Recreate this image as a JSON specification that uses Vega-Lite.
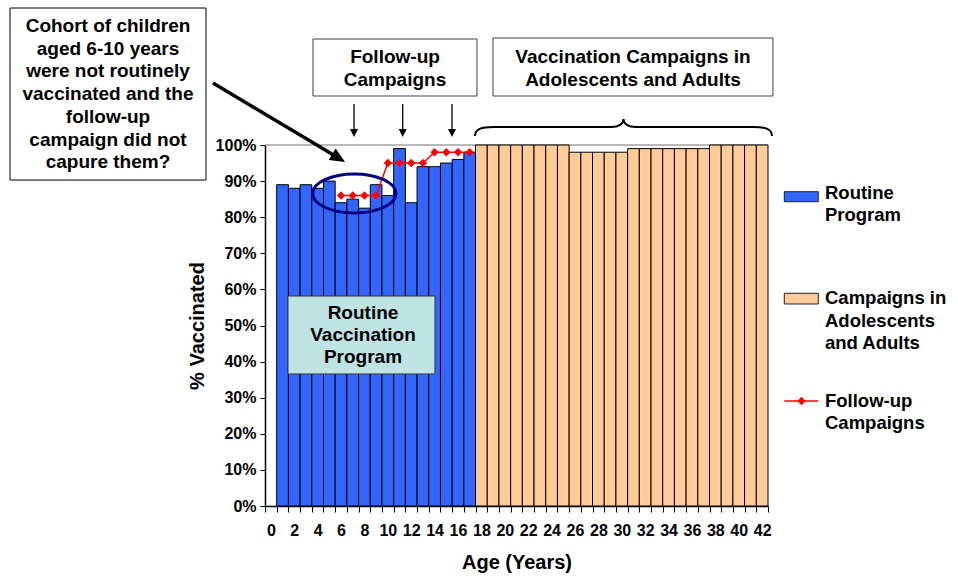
{
  "$schema": "https://vega.github.io/schema/vega-lite/v6.json",
  "width": 503,
  "height": 361,
  "autosize": {"type": "none"},
  "padding": {"left": 265, "top": 145, "right": 190, "bottom": 70},
  "background": "white",
  "config": {"font": "Liberation Sans", "view": {"stroke": null}},
  "resolve": {"scale": {"x": "independent", "y": "independent"}},
  "layer": [
    {
      "layer": [
        {
          "data": {"values": [{}]},
          "mark": {"type": "rule", "color": "#A0A0A0", "strokeWidth": 1.5},
          "encoding": {"y": {"datum": 1, "type": "quantitative", "scale": {"domain": [0, 1]},
            "axis": {
                "values": [0, 0.1, 0.2, 0.3, 0.4, 0.5, 0.6, 0.7, 0.8, 0.9, 1], "tickCount": 11, "format": ".0%", "labelOverlap": false,
                "title": "% Vaccinated", "titleFontSize": 20, "titleFontWeight": "bold", "titleColor": "black", "titlePadding": 8,
                "labelFontSize": 16, "labelFontWeight": "bold", "labelColor": "black", "labelPadding": 4,
                "tickSize": 5, "tickColor": "black", "domainColor": "black", "domainWidth": 1.5, "grid": false
            }}}
        },
        {
          "data": {"values": [
            {"age": 1, "pct": 0.89, "program": "Routine Program"},
            {"age": 2, "pct": 0.88, "program": "Routine Program"},
            {"age": 3, "pct": 0.89, "program": "Routine Program"},
            {"age": 4, "pct": 0.88, "program": "Routine Program"},
            {"age": 5, "pct": 0.90, "program": "Routine Program"},
            {"age": 6, "pct": 0.84, "program": "Routine Program"},
            {"age": 7, "pct": 0.85, "program": "Routine Program"},
            {"age": 8, "pct": 0.825, "program": "Routine Program"},
            {"age": 9, "pct": 0.89, "program": "Routine Program"},
            {"age": 10, "pct": 0.86, "program": "Routine Program"},
            {"age": 11, "pct": 0.99, "program": "Routine Program"},
            {"age": 12, "pct": 0.84, "program": "Routine Program"},
            {"age": 13, "pct": 0.94, "program": "Routine Program"},
            {"age": 14, "pct": 0.94, "program": "Routine Program"},
            {"age": 15, "pct": 0.95, "program": "Routine Program"},
            {"age": 16, "pct": 0.96, "program": "Routine Program"},
            {"age": 17, "pct": 0.98, "program": "Routine Program"},
            {"age": 18, "pct": 1.0, "program": "Campaigns in Adolescents and Adults"},
            {"age": 19, "pct": 1.0, "program": "Campaigns in Adolescents and Adults"},
            {"age": 20, "pct": 1.0, "program": "Campaigns in Adolescents and Adults"},
            {"age": 21, "pct": 1.0, "program": "Campaigns in Adolescents and Adults"},
            {"age": 22, "pct": 1.0, "program": "Campaigns in Adolescents and Adults"},
            {"age": 23, "pct": 1.0, "program": "Campaigns in Adolescents and Adults"},
            {"age": 24, "pct": 1.0, "program": "Campaigns in Adolescents and Adults"},
            {"age": 25, "pct": 1.0, "program": "Campaigns in Adolescents and Adults"},
            {"age": 26, "pct": 0.98, "program": "Campaigns in Adolescents and Adults"},
            {"age": 27, "pct": 0.98, "program": "Campaigns in Adolescents and Adults"},
            {"age": 28, "pct": 0.98, "program": "Campaigns in Adolescents and Adults"},
            {"age": 29, "pct": 0.98, "program": "Campaigns in Adolescents and Adults"},
            {"age": 30, "pct": 0.98, "program": "Campaigns in Adolescents and Adults"},
            {"age": 31, "pct": 0.99, "program": "Campaigns in Adolescents and Adults"},
            {"age": 32, "pct": 0.99, "program": "Campaigns in Adolescents and Adults"},
            {"age": 33, "pct": 0.99, "program": "Campaigns in Adolescents and Adults"},
            {"age": 34, "pct": 0.99, "program": "Campaigns in Adolescents and Adults"},
            {"age": 35, "pct": 0.99, "program": "Campaigns in Adolescents and Adults"},
            {"age": 36, "pct": 0.99, "program": "Campaigns in Adolescents and Adults"},
            {"age": 37, "pct": 0.99, "program": "Campaigns in Adolescents and Adults"},
            {"age": 38, "pct": 1.0, "program": "Campaigns in Adolescents and Adults"},
            {"age": 39, "pct": 1.0, "program": "Campaigns in Adolescents and Adults"},
            {"age": 40, "pct": 1.0, "program": "Campaigns in Adolescents and Adults"},
            {"age": 41, "pct": 1.0, "program": "Campaigns in Adolescents and Adults"},
            {"age": 42, "pct": 1.0, "program": "Campaigns in Adolescents and Adults"}
          ]},
          "mark": {"type": "bar", "stroke": "black", "strokeWidth": 1},
          "encoding": {
            "x": {
              "field": "age", "type": "ordinal",
              "scale": {"domain": [0,1,2,3,4,5,6,7,8,9,10,11,12,13,14,15,16,17,18,19,20,21,22,23,24,25,26,27,28,29,30,31,32,33,34,35,36,37,38,39,40,41,42], "paddingInner": 0, "paddingOuter": 0},
              "axis": {
                "title": "Age (Years)", "titleFontSize": 20, "titleFontWeight": "bold", "titleColor": "black", "titlePadding": 14,
                "labelFontSize": 16, "labelFontWeight": "bold", "labelColor": "black", "labelAngle": 0, "labelPadding": 10,
                "labelOverlap": false, "labelExpr": "datum.value % 2 == 0 ? datum.label : ''",
                "tickBand": "extent", "tickSize": 6, "tickColor": "black", "domainColor": "black", "domainWidth": 1.5, "grid": false
              }
            },
            "y": {
              "field": "pct", "type": "quantitative",
              "scale": {"domain": [0, 1]},
              "axis": {
                "values": [0, 0.1, 0.2, 0.3, 0.4, 0.5, 0.6, 0.7, 0.8, 0.9, 1], "tickCount": 11, "format": ".0%", "labelOverlap": false,
                "title": "% Vaccinated", "titleFontSize": 20, "titleFontWeight": "bold", "titleColor": "black", "titlePadding": 8,
                "labelFontSize": 16, "labelFontWeight": "bold", "labelColor": "black", "labelPadding": 4,
                "tickSize": 5, "tickColor": "black", "domainColor": "black", "domainWidth": 1.5, "grid": false
              }
            },
            "color": {
              "field": "program", "type": "nominal",
              "scale": {"domain": ["Routine Program", "Campaigns in Adolescents and Adults"], "range": ["#3366FF", "#FFCC99"]},
              "legend": null
            }
          }
        },
        {
          "data": {"values": [
            {"age": 6, "pct": 0.86}, {"age": 7, "pct": 0.86}, {"age": 8, "pct": 0.86}, {"age": 9, "pct": 0.86},
            {"age": 10, "pct": 0.95}, {"age": 11, "pct": 0.95}, {"age": 12, "pct": 0.95}, {"age": 13, "pct": 0.95},
            {"age": 14, "pct": 0.98}, {"age": 15, "pct": 0.98}, {"age": 16, "pct": 0.98}, {"age": 17, "pct": 0.98}
          ]},
          "layer": [
            {
              "mark": {"type": "line", "color": "#FF0000", "strokeWidth": 1.5},
              "encoding": {
                "x": {"field": "age", "type": "ordinal", "scale": {"domain": [0,1,2,3,4,5,6,7,8,9,10,11,12,13,14,15,16,17,18,19,20,21,22,23,24,25,26,27,28,29,30,31,32,33,34,35,36,37,38,39,40,41,42]}},
                "y": {"field": "pct", "type": "quantitative", "scale": {"domain": [0, 1]}}
              }
            },
            {
              "mark": {"type": "point", "shape": "diamond", "filled": true, "color": "#FF0000", "size": 70, "opacity": 1},
              "encoding": {
                "x": {"field": "age", "type": "ordinal", "scale": {"domain": [0,1,2,3,4,5,6,7,8,9,10,11,12,13,14,15,16,17,18,19,20,21,22,23,24,25,26,27,28,29,30,31,32,33,34,35,36,37,38,39,40,41,42]}},
                "y": {"field": "pct", "type": "quantitative", "scale": {"domain": [0, 1]}}
              }
            }
          ]
        }
      ]
    },
    {
      "data": {"values": [{}]},
      "layer": [
        {
          "mark": {"type": "rect", "fill": "white", "stroke": "black", "strokeWidth": 1, "clip": false},
          "encoding": {
            "x": {"datum": -21.799, "type": "quantitative", "scale": {"domain": [0, 43], "nice": false, "zero": false}, "axis": null},
            "x2": {"datum": -5.044},
            "y": {"datum": 1.3795, "type": "quantitative", "scale": {"domain": [0, 1], "nice": false, "zero": false}, "axis": null},
            "y2": {"datum": 0.903}
          }
        },
        {
          "mark": {"type": "text", "text": ["Cohort of children", "aged 6-10 years", "were not routinely", "vaccinated and the", "follow-up", "campaign did not", "capure them?"], "fontSize": 19, "fontWeight": "bold", "align": "center", "baseline": "middle", "lineHeight": 22.7, "color": "black", "clip": false},
          "encoding": {
            "x": {"datum": -13.421, "type": "quantitative"},
            "y": {"datum": 1.3296, "type": "quantitative"}
          }
        },
        {
          "mark": {"type": "rule", "color": "black", "strokeWidth": 3.5, "clip": false},
          "encoding": {
            "x": {"datum": -4.445, "type": "quantitative"},
            "x2": {"datum": 6.257},
            "y": {"datum": 1.1717, "type": "quantitative"},
            "y2": {"datum": 0.9645}
          }
        },
        {
          "mark": {"type": "point", "shape": "M0,0 L-1,-0.45 L-1,0.45 Z", "size": 900, "filled": true, "color": "black", "opacity": 1, "angle": 31.3, "clip": false},
          "encoding": {
            "x": {"datum": 6.839, "type": "quantitative"},
            "y": {"datum": 0.9529, "type": "quantitative"}
          }
        },
        {
          "mark": {"type": "rect", "fill": "white", "stroke": "#404040", "strokeWidth": 1, "clip": false},
          "encoding": {
            "x": {"datum": 4.103, "type": "quantitative"},
            "x2": {"datum": 18.123},
            "y": {"datum": 1.2936, "type": "quantitative"},
            "y2": {"datum": 1.1357}
          }
        },
        {
          "mark": {"type": "text", "text": ["Follow-up", "Campaigns"], "fontSize": 19, "fontWeight": "bold", "align": "center", "baseline": "middle", "lineHeight": 22.5, "color": "black", "clip": false},
          "encoding": {
            "x": {"datum": 11.113, "type": "quantitative"},
            "y": {"datum": 1.2424, "type": "quantitative"}
          }
        },
        {
          "mark": {"type": "rule", "color": "black", "strokeWidth": 1.3, "clip": false},
          "encoding": {
            "x": {"datum": 7.608, "type": "quantitative"},
            "y": {"datum": 1.1136, "type": "quantitative"},
            "y2": {"datum": 1.0416}
          }
        },
        {
          "mark": {"type": "rule", "color": "black", "strokeWidth": 1.3, "clip": false},
          "encoding": {
            "x": {"datum": 11.771, "type": "quantitative"},
            "y": {"datum": 1.1136, "type": "quantitative"},
            "y2": {"datum": 1.0416}
          }
        },
        {
          "mark": {"type": "rule", "color": "black", "strokeWidth": 1.3, "clip": false},
          "encoding": {
            "x": {"datum": 15.986, "type": "quantitative"},
            "y": {"datum": 1.1136, "type": "quantitative"},
            "y2": {"datum": 1.0416}
          }
        },
        {
          "mark": {"type": "point", "shape": "M0,0 L-0.5,-1 L0.5,-1 Z", "size": 256, "filled": true, "color": "black", "opacity": 1, "clip": false},
          "encoding": {
            "x": {"datum": 7.608, "type": "quantitative"},
            "y": {"datum": 1.0222, "type": "quantitative"}
          }
        },
        {
          "mark": {"type": "point", "shape": "M0,0 L-0.5,-1 L0.5,-1 Z", "size": 256, "filled": true, "color": "black", "opacity": 1, "clip": false},
          "encoding": {
            "x": {"datum": 11.771, "type": "quantitative"},
            "y": {"datum": 1.0222, "type": "quantitative"}
          }
        },
        {
          "mark": {"type": "point", "shape": "M0,0 L-0.5,-1 L0.5,-1 Z", "size": 256, "filled": true, "color": "black", "opacity": 1, "clip": false},
          "encoding": {
            "x": {"datum": 15.986, "type": "quantitative"},
            "y": {"datum": 1.0222, "type": "quantitative"}
          }
        },
        {
          "mark": {"type": "rect", "fill": "white", "stroke": "#404040", "strokeWidth": 1, "clip": false},
          "encoding": {
            "x": {"datum": 19.491, "type": "quantitative"},
            "x2": {"datum": 43.426},
            "y": {"datum": 1.2964, "type": "quantitative"},
            "y2": {"datum": 1.1357}
          }
        },
        {
          "mark": {"type": "text", "text": ["Vaccination Campaigns in", "Adolescents and Adults"], "fontSize": 19, "fontWeight": "bold", "align": "center", "baseline": "middle", "lineHeight": 22.5, "color": "black", "clip": false},
          "encoding": {
            "x": {"datum": 31.459, "type": "quantitative"},
            "y": {"datum": 1.2424, "type": "quantitative"}
          }
        },
        {
          "mark": {"type": "point", "shape": "M-1,0.0606 C-1,0.0135 -0.9562,0 -0.8754,0 L-0.0808,0 C-0.0337,0 0,-0.0202 0,-0.0539 C0,-0.0202 0.0337,0 0.0808,0 L0.8754,0 C0.9562,0 1,0.0135 1,0.0606", "size": 88209, "filled": false, "stroke": "black", "strokeWidth": 2, "opacity": 1, "clip": false},
          "encoding": {
            "x": {"datum": 30.646, "type": "quantitative"},
            "y": {"datum": 1.0499, "type": "quantitative"}
          }
        },
        {
          "mark": {"type": "point", "shape": "M-1,0 A1,0.468 0 1,0 1,0 A1,0.468 0 1,0 -1,0 Z", "size": 6939, "filled": false, "stroke": "#000080", "strokeWidth": 3, "opacity": 1, "clip": false},
          "encoding": {
            "x": {"datum": 7.634, "type": "quantitative"},
            "y": {"datum": 0.8657, "type": "quantitative"}
          }
        },
        {
          "mark": {"type": "rect", "fill": "#BFE3E3", "stroke": "#333333", "strokeWidth": 1, "clip": false},
          "encoding": {
            "x": {"datum": 1.966, "type": "quantitative"},
            "x2": {"datum": 14.532},
            "y": {"datum": 0.5817, "type": "quantitative"},
            "y2": {"datum": 0.3657}
          }
        },
        {
          "mark": {"type": "text", "text": ["Routine", "Vaccination", "Program"], "fontSize": 19, "fontWeight": "bold", "align": "center", "baseline": "middle", "lineHeight": 22, "color": "black", "clip": false},
          "encoding": {
            "x": {"datum": 8.377, "type": "quantitative"},
            "y": {"datum": 0.5346, "type": "quantitative"}
          }
        },
        {
          "mark": {"type": "rect", "fill": "#3366FF", "stroke": "#222222", "strokeWidth": 1, "clip": false},
          "encoding": {
            "x": {"datum": 44.392, "type": "quantitative"},
            "x2": {"datum": 47.299},
            "y": {"datum": 0.8706, "type": "quantitative"},
            "y2": {"datum": 0.8429}
          }
        },
        {
          "mark": {"type": "rect", "fill": "#FFCC99", "stroke": "#222222", "strokeWidth": 1, "clip": false},
          "encoding": {
            "x": {"datum": 44.392, "type": "quantitative"},
            "x2": {"datum": 47.299},
            "y": {"datum": 0.5892, "type": "quantitative"},
            "y2": {"datum": 0.5596}
          }
        },
        {
          "mark": {"type": "rule", "color": "#FF0000", "strokeWidth": 1.5, "clip": false},
          "encoding": {
            "x": {"datum": 44.392, "type": "quantitative"},
            "x2": {"datum": 47.299},
            "y": {"datum": 0.2909, "type": "quantitative"}
          }
        },
        {
          "mark": {"type": "point", "shape": "diamond", "filled": true, "color": "#FF0000", "size": 70, "opacity": 1, "clip": false},
          "encoding": {
            "x": {"datum": 45.863, "type": "quantitative"},
            "y": {"datum": 0.2909, "type": "quantitative"}
          }
        },
        {
          "mark": {"type": "text", "text": ["Routine", "Program"], "fontSize": 18.5, "fontWeight": "bold", "align": "left", "baseline": "middle", "lineHeight": 22.3, "color": "black", "clip": false},
          "encoding": {
            "x": {"datum": 47.871, "type": "quantitative"},
            "y": {"datum": 0.8678, "type": "quantitative"}
          }
        },
        {
          "mark": {"type": "text", "text": ["Campaigns in", "Adolescents", "and Adults"], "fontSize": 18.5, "fontWeight": "bold", "align": "left", "baseline": "middle", "lineHeight": 22.3, "color": "black", "clip": false},
          "encoding": {
            "x": {"datum": 47.871, "type": "quantitative"},
            "y": {"datum": 0.5753, "type": "quantitative"}
          }
        },
        {
          "mark": {"type": "text", "text": ["Follow-up", "Campaigns"], "fontSize": 18.5, "fontWeight": "bold", "align": "left", "baseline": "middle", "lineHeight": 22.3, "color": "black", "clip": false},
          "encoding": {
            "x": {"datum": 47.871, "type": "quantitative"},
            "y": {"datum": 0.2909, "type": "quantitative"}
          }
        }
      ]
    }
  ]
}
